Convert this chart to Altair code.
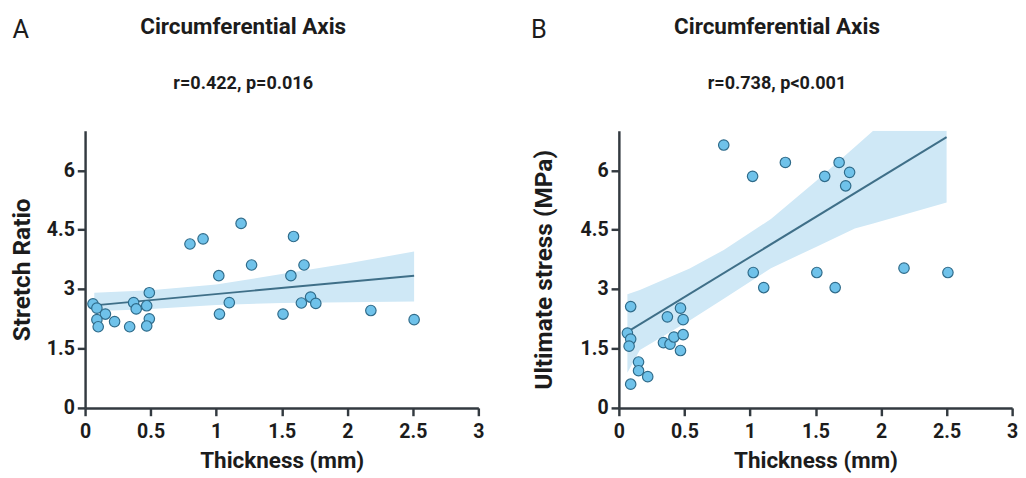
import altair as alt
import pandas as pd

# ---------------- data ----------------
# Panel A: Stretch ratio vs thickness
a_x = [0.06, 0.09, 0.155, 0.09, 0.10, 0.225, 0.34, 0.37, 0.39, 0.47, 0.49, 0.49, 0.47,
       0.80, 0.90, 1.02, 1.025, 1.10, 1.19, 1.27, 1.51, 1.57, 1.59, 1.67, 1.65, 1.72,
       1.76, 2.18, 2.51]
a_y = [2.63, 2.52, 2.37, 2.23, 2.05, 2.18, 2.05, 2.66, 2.50, 2.58, 2.91, 2.25, 2.07,
       4.14, 4.27, 3.34, 2.37, 2.66, 4.66, 3.61, 2.37, 3.34, 4.33, 3.61, 2.65, 2.80,
       2.64, 2.46, 2.23]
a_fit_x = [0.07, 2.51]
a_fit_y = [2.59, 3.34]
a_band_x = [0.07, 0.5, 1.0, 1.5, 2.0, 2.51]
a_band_lo = [2.44, 2.50, 2.60, 2.65, 2.67, 2.69]
a_band_hi = [2.91, 2.97, 3.12, 3.38, 3.65, 3.95]

# Panel B: Ultimate stress vs thickness
b_x = [0.80, 1.02, 1.27, 1.57, 1.68, 1.76, 1.73, 1.025, 1.105, 1.51, 1.65, 2.175, 2.51,
       0.09, 0.065, 0.09, 0.078, 0.15, 0.15, 0.22, 0.09, 0.37, 0.34, 0.39, 0.42, 0.47,
       0.49, 0.49, 0.47]
b_y = [6.64, 5.85, 6.20, 5.85, 6.20, 5.95, 5.61, 3.42, 3.04, 3.42, 3.04, 3.53, 3.42,
       2.56, 1.89, 1.74, 1.56, 1.16, 0.94, 0.79, 0.60, 2.30, 1.65, 1.61, 1.79, 2.52,
       2.23, 1.85, 1.45]
b_fit_x = [0.065, 2.50]
b_fit_y = [1.92, 6.84]
b_band_x = [0.065, 0.16, 0.54, 0.8, 1.16, 1.5, 1.8, 1.94, 2.50]
b_band_lo = [0.89, 1.46, 2.21, 2.76, 3.53, 4.06, 4.53, 4.66, 5.19]
b_band_hi = [2.87, 2.98, 3.52, 3.99, 4.77, 5.72, 6.59, 7.0, 7.0]

x_ticks = [0, 0.5, 1, 1.5, 2, 2.5, 3]
y_ticks = [0, 1.5, 3, 4.5, 6]

titles = ["Circumferential Axis", "Circumferential Axis"]
stats = ["r=0.422, p=0.016", "r=0.738, p<0.001"]
letters = ["A", "B"]
y_titles = ["Stretch Ratio", "Ultimate stress (MPa)"]
x_title = "Thickness (mm)"

# ---------------- style ----------------
FONT = "Roboto"
DARK = "#1c1c1c"
AXIS = "#333a40"
BAND = "#cfe8f6"
LINE = "#3f6f88"
PT_FILL = "#6fc2ea"
PT_STROKE = "#2f6b8a"
W, H = 403, 284


def panel(px, py, fx, fy, bx, lo, hi, ytitle, letter, title, stat, ytitle_pad, letter_dx):
    pts = pd.DataFrame({"x": px, "y": py})
    fit = pd.DataFrame({"x": fx, "y": fy})
    band = pd.DataFrame({"x": bx, "lo": lo, "hi": hi})
    xs = alt.Scale(domain=[0, 3], nice=False, zero=False)
    ys = alt.Scale(domain=[0, 7], nice=False, zero=False)
    xax = alt.Axis(values=x_ticks, title=x_title, labelExpr="'' + datum.value",
                   labelFlush=False)
    yax = alt.Axis(values=y_ticks, title=ytitle, labelExpr="'' + datum.value",
                   titlePadding=ytitle_pad, titleFontSize=25)

    area = alt.Chart(band).mark_area(color=BAND, opacity=1, clip=True).encode(
        x=alt.X("x:Q", scale=xs, axis=xax),
        y=alt.Y("lo:Q", scale=ys, axis=yax),
        y2="hi:Q",
    )
    line = alt.Chart(fit).mark_line(color=LINE, strokeWidth=2).encode(
        x="x:Q", y="y:Q"
    )
    dots = alt.Chart(pts).mark_circle(
        fill=PT_FILL, stroke=PT_STROKE, strokeWidth=1.2, size=115, opacity=1
    ).encode(x="x:Q", y="y:Q")

    lab = pd.DataFrame({"t": [letter]})
    letter_mark = alt.Chart(lab).mark_text(
        font=FONT, fontSize=26, fontWeight="normal", color=DARK, align="center",
        baseline="alphabetic"
    ).encode(text="t:N", x=alt.value(letter_dx), y=alt.value(-95))

    tt = pd.DataFrame({"t": [title]})
    title_mark = alt.Chart(tt).mark_text(
        font=FONT, fontSize=23, fontWeight="bold", color=DARK, align="center",
        baseline="alphabetic"
    ).encode(text="t:N", x=alt.value(162), y=alt.value(-99))

    st = pd.DataFrame({"t": [stat]})
    stat_mark = alt.Chart(st).mark_text(
        font=FONT, fontSize=18.5, fontWeight="bold", color=DARK, align="center",
        baseline="alphabetic"
    ).encode(text="t:N", x=alt.value(162), y=alt.value(-43))

    return alt.layer(area, line, dots, letter_mark, title_mark, stat_mark).properties(
        width=W, height=H
    )


pa = panel(a_x, a_y, a_fit_x, a_fit_y, a_band_x, a_band_lo, a_band_hi,
           y_titles[0], letters[0], titles[0], stats[0], 12, -66)
pb = panel(b_x, b_y, b_fit_x, b_fit_y, b_band_x, b_band_lo, b_band_hi,
           y_titles[1], letters[1], titles[1], stats[1], 24, -82)

chart = alt.hconcat(pa, pb, spacing=47).properties(
    padding={"left": 2, "top": 3, "right": 0, "bottom": 0},
    background="white",
).configure_view(stroke=None).configure_axis(
    grid=False,
    domainColor=AXIS, domainWidth=2.5,
    tickColor=AXIS, tickWidth=2.5, tickSize=8,
    labelFont=FONT, labelFontSize=20, labelFontWeight="bold", labelColor=DARK,
    labelPadding=3,
    titleFont=FONT, titleFontSize=23, titleFontWeight="bold", titleColor=DARK,
).configure_axisX(labelPadding=6, titlePadding=9)

chart.save("out.html", embed_options={"renderer": "svg", "actions": False})
